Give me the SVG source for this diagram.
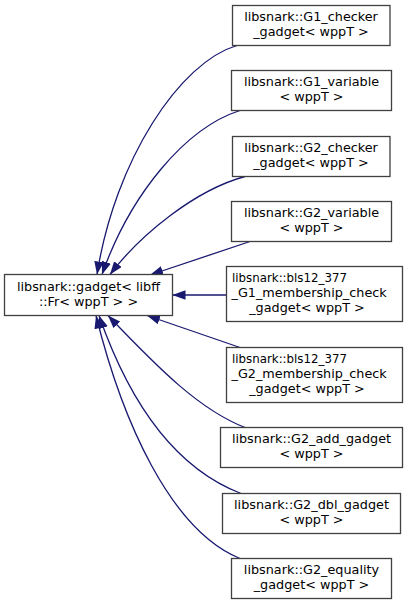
<svg xmlns="http://www.w3.org/2000/svg" width="408" height="605" viewBox="0 0 408 605">
<style>
.box{fill:#ffffff;stroke:#404040;stroke-width:1.3}
.t{font-family:"DejaVu Sans",sans-serif;font-size:12.8px;fill:#000000}
.m{text-anchor:middle}
.s{text-anchor:start}
.e{fill:none;stroke:#191970;stroke-width:1.3;marker-end:url(#ah)}
</style>
<defs>
<marker id="ah" markerUnits="userSpaceOnUse" markerWidth="13" markerHeight="9.5" viewBox="0 0 13 9.5" refX="13" refY="4.75" orient="auto">
<path d="M0,0 L13,4.75 L0,9.5 z" fill="#191970"/>
</marker>
</defs>
<rect width="408" height="605" fill="#ffffff"/>
<g id="edges">
<path class="e" d="M237,45.5 C180,62 115,160 97,274.5"/>
<path class="e" d="M240,110.5 C185,128 130,195 102,274.5"/>
<path class="e" d="M245,176.5 C195,190 140,235 110,274.5"/>
<path class="e" d="M250,241.5 L150,275"/>
<path class="e" d="M226.5,295 L172.5,295"/>
<path class="e" d="M240,347.5 L147,315.5"/>
<path class="e" d="M245,427.5 C200,410 160,370 108,315.5"/>
<path class="e" d="M241,493.5 C180,470 132,410 99,315.5"/>
<path class="e" d="M240,558.5 C170,530 122,420 96,315.5"/>
</g>
<g id="base">
<rect class="box" x="4.5" y="274.5" width="168" height="41"/>
<text class="t m" x="88.5" y="290.5">libsnark::gadget&lt; libff</text>
<text class="t m" x="88.5" y="305.5">::Fr&lt; wppT &gt; &gt;</text>
</g>
<g id="g1_checker">
<rect class="box" x="232.5" y="5.5" width="157.5" height="40"/>
<text class="t m" x="311" y="21">libsnark::G1_checker</text>
<text class="t m" x="311" y="36">_gadget&lt; wppT &gt;</text>
</g>
<g id="g1_variable">
<rect class="box" x="231.5" y="70.5" width="160" height="40"/>
<text class="t m" x="311.5" y="86">libsnark::G1_variable</text>
<text class="t m" x="311.5" y="101">&lt; wppT &gt;</text>
</g>
<g id="g2_checker">
<rect class="box" x="232.5" y="136.5" width="157.5" height="40"/>
<text class="t m" x="311" y="152">libsnark::G2_checker</text>
<text class="t m" x="311" y="167">_gadget&lt; wppT &gt;</text>
</g>
<g id="g2_variable">
<rect class="box" x="231.5" y="201.5" width="160" height="40"/>
<text class="t m" x="311.5" y="217">libsnark::G2_variable</text>
<text class="t m" x="311.5" y="232">&lt; wppT &gt;</text>
</g>
<g id="bls_g1">
<rect class="box" x="226.5" y="266.5" width="176" height="55"/>
<text class="t s" x="232" y="282" textLength="115" lengthAdjust="spacingAndGlyphs">libsnark::bls12_377</text>
<text class="t s" x="231.5" y="297">_G1_membership_check</text>
<text class="t m" x="307" y="312">_gadget&lt; wppT &gt;</text>
</g>
<g id="bls_g2">
<rect class="box" x="226.5" y="347.5" width="176" height="55"/>
<text class="t s" x="232" y="363" textLength="115" lengthAdjust="spacingAndGlyphs">libsnark::bls12_377</text>
<text class="t s" x="231.5" y="378">_G2_membership_check</text>
<text class="t m" x="307" y="393">_gadget&lt; wppT &gt;</text>
</g>
<g id="g2_add">
<rect class="box" x="220.5" y="427.5" width="182" height="40"/>
<text class="t m" x="311.5" y="443">libsnark::G2_add_gadget</text>
<text class="t m" x="311.5" y="458">&lt; wppT &gt;</text>
</g>
<g id="g2_dbl">
<rect class="box" x="222.5" y="493.5" width="178" height="40"/>
<text class="t m" x="311.5" y="509">libsnark::G2_dbl_gadget</text>
<text class="t m" x="311.5" y="524">&lt; wppT &gt;</text>
</g>
<g id="g2_equality">
<rect class="box" x="231.5" y="558.5" width="160" height="40"/>
<text class="t m" x="311.5" y="574">libsnark::G2_equality</text>
<text class="t m" x="311.5" y="589">_gadget&lt; wppT &gt;</text>
</g>
</svg>
